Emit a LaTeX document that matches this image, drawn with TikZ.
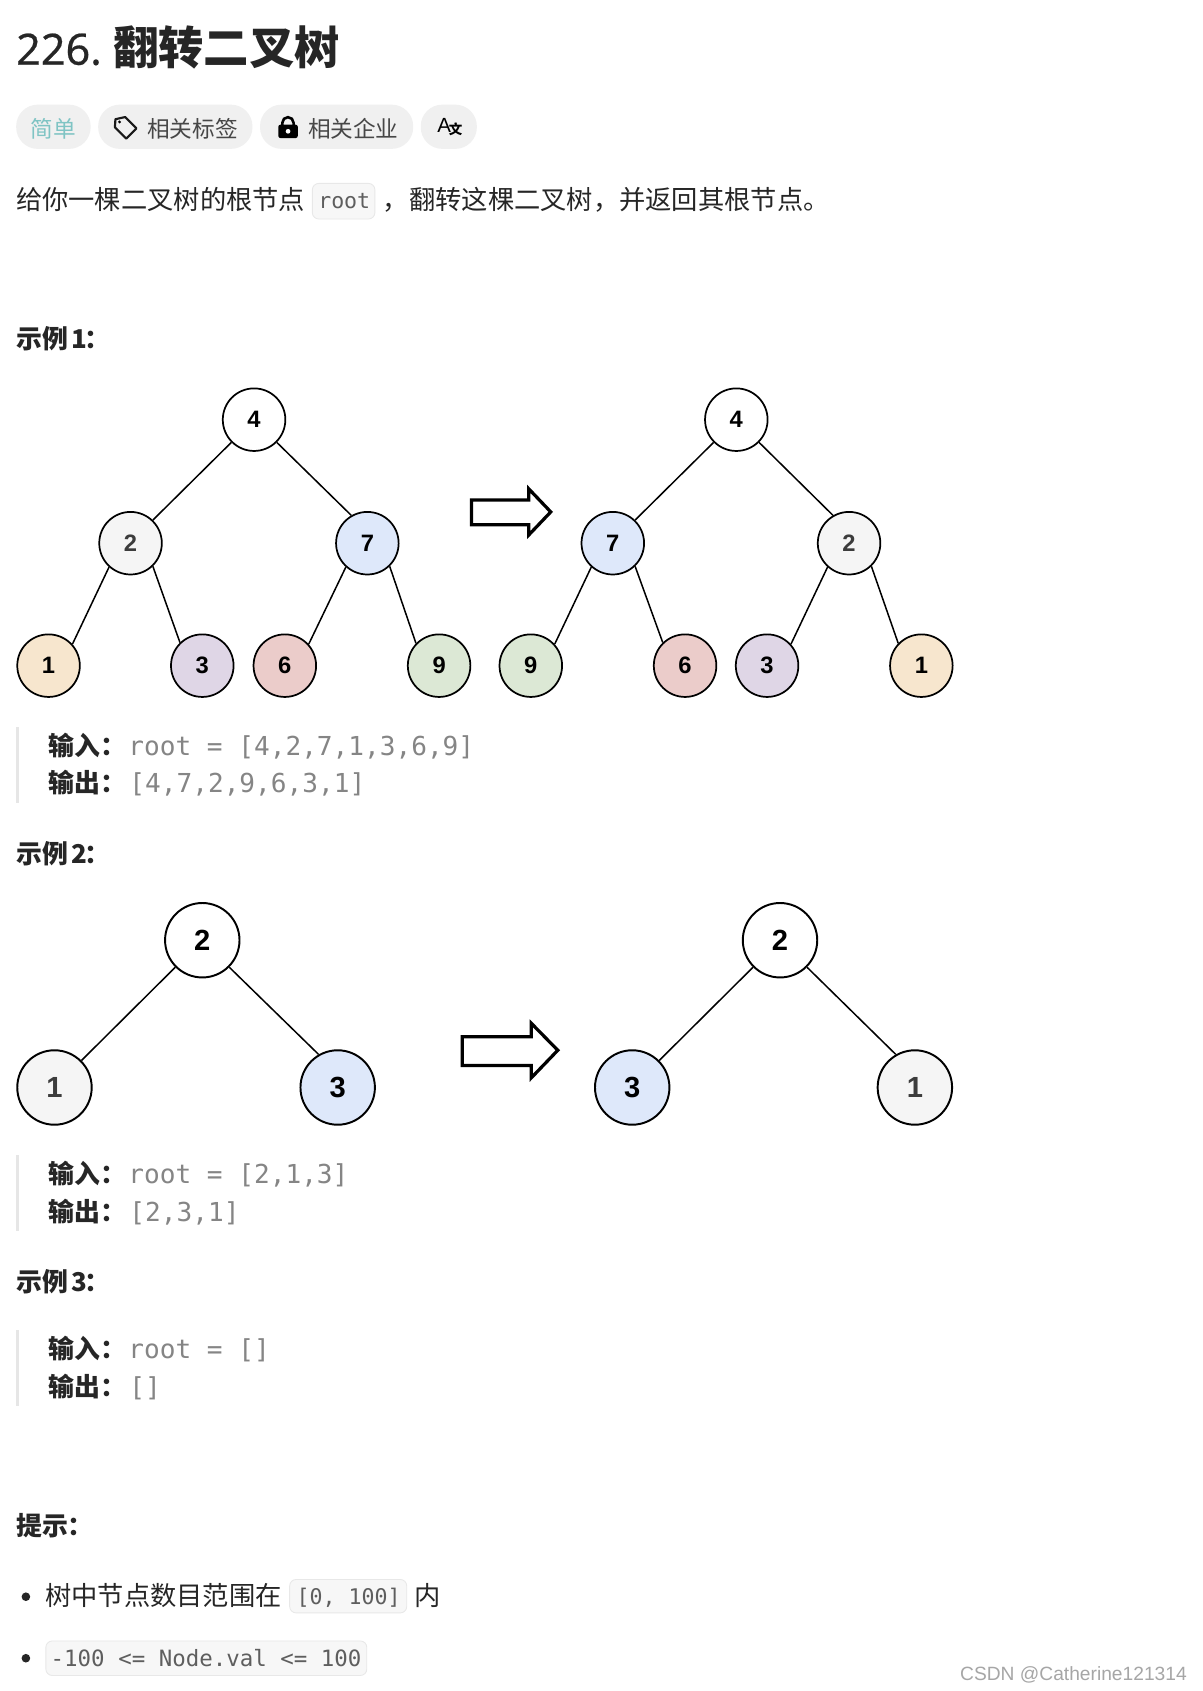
\documentclass[tikz,border=0pt]{standalone}
\usepackage{fontspec}
\setmainfont{Noto Sans CJK SC}
\setmonofont{DejaVu Sans Mono}
\newfontfamily\latinf{Noto Sans}
\newfontfamily\arialf{Liberation Sans}
\newcommand{\fsz}[1]{\fontsize{#1}{#1}\selectfont}
\newcommand{\hd}[1]{示例\kern3.5pt #1\kern-3pt：}
\definecolor{ink}{HTML}{262626}
\definecolor{pillgray}{HTML}{F0F0F0}
\definecolor{teal2}{HTML}{7FC4C4}
\definecolor{codegray}{HTML}{858585}
\definecolor{inlgray}{HTML}{5E5E5E}
\definecolor{codefill}{HTML}{F7F7F7}
\definecolor{codeline}{HTML}{E8E8E8}
\definecolor{barcol}{HTML}{E6E6E6}
\definecolor{cA}{HTML}{F5F5F5}
\definecolor{cB}{HTML}{DEE8FA}
\definecolor{cOr}{HTML}{F7E6CE}
\definecolor{cPu}{HTML}{DFD6E6}
\definecolor{cRe}{HTML}{EBCCCA}
\definecolor{cGr}{HTML}{DCE8D5}
\tikzset{
  txt/.style={anchor=base west,inner sep=0pt,outer sep=0pt,text=ink},
  pill/.style={fill=pillgray,rounded corners=20pt,draw=none},
  codebox/.style={fill=codefill,draw=codeline,line width=.8pt,rounded corners=6pt},
  bar/.style={fill=barcol,draw=none},
  small/.style={circle,draw=black,line width=1.6pt,minimum size=58pt,inner sep=0pt,font=\arialf\bfseries\fsz{22}},
  big/.style={circle,draw=black,line width=1.8pt,minimum size=69pt,inner sep=0pt,font=\arialf\bfseries\fsz{27}},
  edge/.style={draw=black,line width=1.4pt},
  fatarrow/.style={draw=black,line width=3pt,fill=white,miter limit=10},
  head/.style={txt,font=\bfseries\fsz{24}},
  label/.style={txt,font=\bfseries\fsz{24}},
  codetxt/.style={txt,font=\ttfamily\fsz{24.2},text=codegray},
  inl/.style={txt,font=\ttfamily\fsz{20},text=inlgray},
  body/.style={txt,font=\fsz{24.35}},
  pilltxt/.style={txt,font=\fsz{21},text=ink!85}
}
\begin{document}
\begin{tikzpicture}[x=1pt,y=-1pt]
\fill[white] (0,0) rectangle (1115,1567.4);
\useasboundingbox (0,0) rectangle (1115,1567.4);
% title
\node[txt,font=\latinf\fsz{40}\addfontfeature{FakeBold=0.5}] (t1) at (15,60) {226.};
\node[txt,font=\bfseries\fsz{42}] (t2) at (105,60) {翻转二叉树};
% pills
\fill[pill] (15,97) rectangle (84,138);
\fill[pill] (91,97) rectangle (234,138);
\fill[pill] (241,97) rectangle (383,138);
\fill[pill] (390,97) rectangle (442,138);
\node[pilltxt,text=teal2] (p1) at (28.5,127) {简单};
\node[pilltxt] (p2) at (136.5,127) {相关标签};
\node[pilltxt] (p3) at (285.5,127) {相关企业};
\draw[line width=2pt,line join=round,black!90] (107,110.5) -- (116,108.5) -- (126.5,119) -- (117,128.5) -- (106.5,118) -- cycle;
\fill[black] (110.8,113) circle (1.5pt);
\draw[line width=2.4pt,black] (261.7,117) -- (261.7,113.8) arc (180:360:5.2) -- (272.1,117);
\fill[black,rounded corners=2pt] (258,115.5) rectangle (276,128);
\fill[white] (267,121.7) circle (2.2pt);
\node[txt,font=\arialf\fsz{19},text=black] (ax1) at (405.5,122.5) {A};
\node[txt,font=\bfseries\fsz{12.5},text=black] (ax2) at (416,125) {文};
% intro
\node[body] (b1) at (15,194) {给你一棵二叉树的根节点};
\draw[codebox] (289.5,170) rectangle (347.5,203);
\node[inl] (b2) at (295,193) {root};
\node[body] (b3) at (355,194) {，翻转这棵二叉树，并返回其根节点。};
% example 1
\node[head] (h1) at (15,323) {\hd{1}};
\node[small,fill=white] (a4) at (235.5,389) {4};
\node[small,fill=cA,text=ink!90] (a2) at (121,503.5) {2};
\node[small,fill=cB] (a7) at (340.5,503.5) {7};
\node[small,fill=cOr] (a1) at (45,617) {1};
\node[small,fill=cPu] (a3) at (187.5,617) {3};
\node[small,fill=cRe] (a6) at (264,617) {6};
\node[small,fill=cGr] (a9) at (407,617) {9};
\draw[edge] (a4.225)--(a2.46); \draw[edge] (a4.-45)--(a7.120);
\draw[edge] (a2.228)--(a1.42); \draw[edge] (a2.-46)--(a3.134);
\draw[edge] (a7.228)--(a6.42); \draw[edge] (a7.-46)--(a9.136);
\node[small,fill=white] (m4) at (682.5,389) {4};
\node[small,fill=cB] (m7) at (568,503.5) {7};
\node[small,fill=cA,text=ink!90] (m2) at (787,503.5) {2};
\node[small,fill=cGr] (m9) at (492,617) {9};
\node[small,fill=cRe] (m6) at (635,617) {6};
\node[small,fill=cPu] (m3) at (711,617) {3};
\node[small,fill=cOr] (m1) at (854,617) {1};
\draw[edge] (m4.225)--(m7.46); \draw[edge] (m4.-45)--(m2.120);
\draw[edge] (m7.228)--(m9.42); \draw[edge] (m7.-46)--(m6.134);
\draw[edge] (m2.228)--(m3.42); \draw[edge] (m2.-46)--(m1.136);
\draw[fatarrow] (437,463.5) -- (490,463.5) -- (490,453) -- (510.5,474.5) -- (490,496) -- (490,486.5) -- (437,486.5) -- cycle;
\fill[bar] (15,674) rectangle (18,744);
\node[label] (l1) at (45,700) {输入：};
\node[codetxt] (c1) at (119,700) {root = [4,2,7,1,3,6,9]};
\node[label] (l2) at (45,735) {输出：};
\node[codetxt] (c2) at (120,735) {[4,7,2,9,6,3,1]};
% example 2
\node[head] (h2) at (15,800) {\hd{2}};
\node[big,fill=white] (d2) at (187.5,871.5) {2};
\node[big,fill=cA,text=ink!90] (d1) at (50.5,1008) {1};
\node[big,fill=cB] (d3) at (313,1008) {3};
\draw[edge] (d2.225)--(d1.45); \draw[edge] (d2.-45)--(d3.120);
\node[big,fill=white] (n2) at (723,871.5) {2};
\node[big,fill=cB] (n3) at (586,1008) {3};
\node[big,fill=cA,text=ink!90] (n1) at (848,1008) {1};
\draw[edge] (n2.225)--(n3.45); \draw[edge] (n2.-45)--(n1.120);
\draw[fatarrow] (428.5,961) -- (492.5,961) -- (492.5,948.5) -- (517,973.5) -- (492.5,999) -- (492.5,987.5) -- (428.5,987.5) -- cycle;
\fill[bar] (15,1071) rectangle (18,1141);
\node[label] (l3) at (45,1097) {输入：};
\node[codetxt] (c3) at (119,1097) {root = [2,1,3]};
\node[label] (l4) at (45,1132) {输出：};
\node[codetxt] (c4) at (120,1132) {[2,3,1]};
% example 3
\node[head] (h3) at (15,1197) {\hd{3}};
\fill[bar] (15,1233) rectangle (18,1303);
\node[label] (l5) at (45,1259) {输入：};
\node[codetxt] (c5) at (119,1259) {root = []};
\node[label] (l6) at (45,1294) {输出：};
\node[codetxt] (c6) at (120,1294) {[]};
% hints
\node[head] (h4) at (15,1423) {提示：};
\fill[ink] (24,1480) circle (4pt);
\node[body] (k1) at (42,1488) {树中节点数目范围在};
\draw[codebox] (268.5,1464) rectangle (377,1495);
\node[inl] (k2) at (275,1487) {[0, 100]};
\node[body] (k3) at (384,1488) {内};
\fill[ink] (24,1537) circle (4pt);
\draw[codebox] (42.5,1521) rectangle (340,1553);
\node[inl,font=\ttfamily\fsz{20.8}] (k4) at (47,1545) {-100 <= Node.val <= 100};
% watermark
\node[txt,font=\arialf\fsz{17.8},text=black!35] (w) at (890,1558) {CSDN @Catherine121314};
\end{tikzpicture}
\end{document}
